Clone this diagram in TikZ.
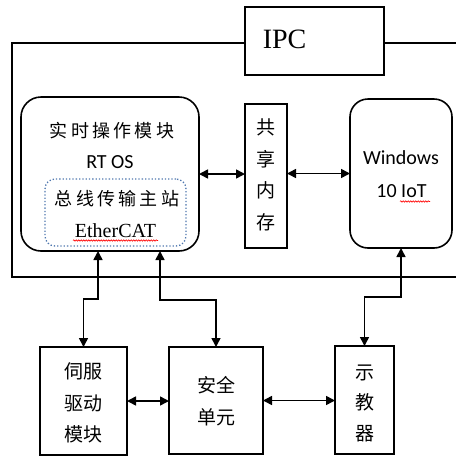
\documentclass[tikz,border=0pt]{standalone}
\usepackage{fontspec}
\setmainfont{Liberation Serif}
\newfontfamily\cjk{Noto Sans CJK SC}
\newfontfamily\cjksp[LetterSpace=18]{Noto Sans CJK SC}
\newfontfamily\calib{Carlito}
\usetikzlibrary{arrows.meta,calc,decorations.pathmorphing}
\begin{document}
\begin{tikzpicture}[x=1pt,y=-1pt,line width=1.6pt,
  box/.style={draw,inner sep=0pt,outer sep=0pt},
  arr/.style={{Triangle[length=9pt,width=9pt]}-{Triangle[length=9pt,width=9pt]}},
  zh/.style={font=\cjk\fontsize{19}{23}\selectfont,inner sep=0pt},
  zhv/.style={font=\cjk\fontsize{19}{31.5}\selectfont,align=center,inner sep=0pt},
  lat/.style={font=\calib\fontsize{20}{24}\selectfont,inner sep=0pt},
  wavy/.style={red,line width=0.6pt,decorate,decoration={snake,amplitude=0.7pt,segment length=2.5pt}}]
\useasboundingbox (0,0) rectangle (456,456);
% outer IPC frame
\draw (460,43) -- (12,43) -- (12,277) -- (460,277);
\node[box,fill=white,minimum width=139pt,minimum height=68pt] (ipc) at (314.5,41) {};
\node[anchor=west,inner sep=0pt,font=\fontsize{28}{32}\selectfont] (ipct) at (262,39) {IPC};
% real-time module
\node[box,rounded corners=20pt,minimum width=178pt,minimum height=154pt] (rt) at (110,174) {};
\node[inner sep=0pt,font=\cjksp\fontsize{18}{22}\selectfont] (rt1) at (112,131) {实时操作模块};
\node[lat] (rt2) at (110,162) {RT OS};
\node[box,draw={rgb,255:red,80;green,120;blue,175},dotted,line width=1.3pt,rounded corners=10pt,minimum width=141pt,minimum height=67pt] (ec) at (115.5,212.5) {};
\node[inner sep=0pt,font=\cjksp\fontsize{18}{22}\selectfont] (ec1) at (117,199) {总线传输主站};
\node[inner sep=0pt,font=\fontsize{20}{24}\selectfont] (ec2) at (115.5,231) {EtherCAT};
\draw[wavy] (73,240.5) -- (158,240.5);
% shared memory
\node[box,minimum width=42pt,minimum height=144pt] (shm) at (266,176) {};
\node[zhv] (shmt) at (266,175) {共\\享\\内\\存};
% windows
\node[box,rounded corners=18pt,minimum width=102pt,minimum height=149pt] (win) at (401,173.5) {};
\node[lat] (win1) at (401,158) {Windows};
\node[lat] (win2) at (401.5,191) {10 IoT};
\draw[wavy] (400,201.5) -- (430,201.5);
% bottom boxes
\node[box,minimum width=87pt,minimum height=108pt] (servo) at (83.5,401) {};
\node[zhv] (servot) at (83.5,403) {伺服\\驱动\\模块};
\node[box,minimum width=94pt,minimum height=107pt] (safe) at (216,400.5) {};
\node[zhv,font=\cjk\fontsize{19}{32}\selectfont] (safet) at (216,401) {安全\\单元};
\node[box,minimum width=59pt,minimum height=108pt] (teach) at (364.5,400) {};
\node[zhv,font=\cjk\fontsize{19}{30.5}\selectfont] (teacht) at (364.5,403) {示\\教\\器};
% connectors
\draw[arr] (rt.east) -- (rt.east -| shm.west);
\draw[arr] (shm.east |- win.west) -- (win.west);
\draw[arr] (servo.north) -- ++(0,-48) -| ($(rt.south)+(-12,0)$);
\draw[arr] (safe.north) -- ++(0,-47) -| ($(rt.south)+(50,0)$);
\draw[arr] (teach.north) -- ++(0,-49) -| (win.south);
\draw[arr] (servo.east) -- (servo.east -| safe.west);
\draw[arr] (safe.east) -- (safe.east -| teach.west);
\end{tikzpicture}
\end{document}
